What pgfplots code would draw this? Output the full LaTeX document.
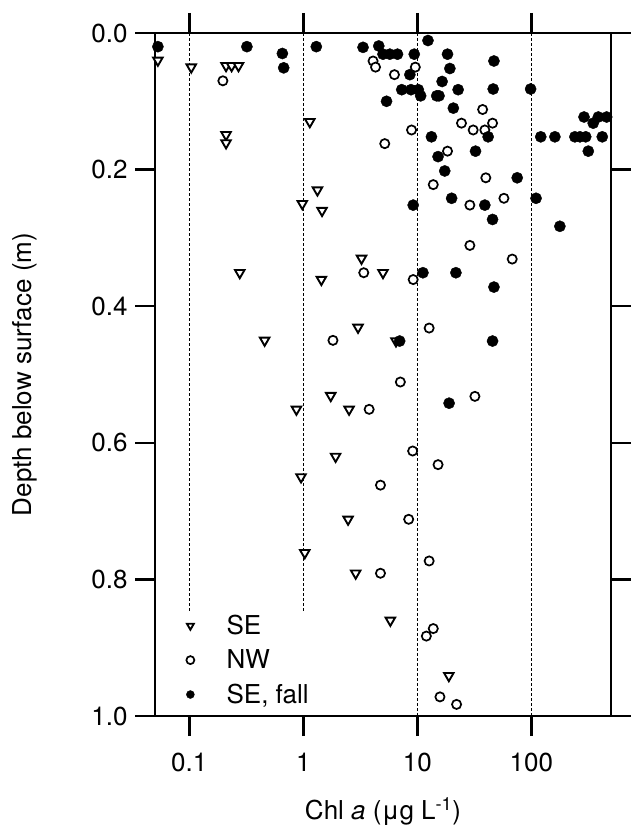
\documentclass[border=0pt]{standalone}
\usepackage{fontspec}
\setmainfont{TeX Gyre Heros}
\usepackage{pgfplots}
\pgfplotsset{compat=1.18}

\begin{document}
\begin{tikzpicture}
\path[use as bounding box] (-155pt,-110pt) rectangle (476pt,716pt);
\begin{axis}[
  at={(0pt,0pt)}, anchor=south west,
  scale only axis, width=456pt, height=683pt,
  xmode=log, xmin=0.05, xmax=500,
  ymin=0, ymax=1, y dir=reverse,
  xtick={0.1,1,10,100}, xticklabels={0.1,1,10,100},
  xminorticks=false,
  ytick={0,0.2,0.4,0.6,0.8,1}, yticklabels={0.0,0.2,0.4,0.6,0.8,1.0},
  tick align=outside, major tick length=20pt,
  axis line style={line width=2.4pt},
  every tick/.style={line width=2.4pt, black},
  font=\fontsize{26}{31}\selectfont,
  xticklabel shift=14pt,
  yticklabel shift=4pt,
  xlabel={Chl \textit{a} (μg L\textsuperscript{-1})},
  ylabel={Depth below surface (m)},
  xlabel style={at={(axis description cs:0.5,-0.14)}, anchor=center},
  ylabel style={at={(axis description cs:-0.285,0.5)}, anchor=center},
  legend style={at={(axis description cs:0.0504,0.006)}, anchor=south west,
    inner sep=0pt, row sep=0pt, draw=none, fill=none,
    font=\fontsize{26}{31}\selectfont,
    nodes={inner sep=0pt, text height=17pt, text depth=0pt}},
  legend cell align=left,
  legend image code/.code={
    \draw[#1, mark size=4pt] plot coordinates {(0pt,0pt)};
    \path (-12pt,-17pt) (36pt,17pt);
  },
]
% dashed guide lines
\addplot[forget plot, line width=0.9pt, dash pattern=on 3pt off 2pt] coordinates {(0.1,0) (0.1,0.849)};
\addplot[forget plot, line width=0.9pt, dash pattern=on 3pt off 2pt] coordinates {(1,0) (1,0.849)};
\addplot[forget plot, line width=0.9pt, dash pattern=on 3pt off 2pt] coordinates {(10,0) (10,1)};
\addplot[forget plot, line width=0.9pt, dash pattern=on 3pt off 2pt] coordinates {(100,0) (100,1)};

% SE
\addplot[only marks, mark=triangle*, mark size=5.5pt,
  mark options={rotate=180, fill=white, draw=black, line width=1.9pt}]
coordinates {
(0.053,0.04) (0.104,0.05) (0.21,0.048) (0.235,0.048) (0.27,0.048)
(0.21,0.149) (0.21,0.161) (1.14,0.13) (1.33,0.23) (0.98,0.25) (1.46,0.26)
(3.24,0.33) (5.0,0.351) (0.277,0.351) (1.44,0.361) (3.02,0.431) (0.458,0.45)
(6.5,0.451) (1.74,0.531) (0.87,0.551) (2.52,0.551) (1.92,0.62) (0.955,0.65)
(2.47,0.712) (1.03,0.761) (2.88,0.791) (5.8,0.86) (18.9,0.941)
};
\addlegendentry{SE}

% NW
\addplot[only marks, mark=*, mark size=4.6pt,
  mark options={fill=white, draw=black, line width=1.7pt}]
coordinates {
(0.197,0.07) (4.09,0.041) (4.3,0.05) (6.3,0.061) (9.6,0.05) (5.18,0.162)
(37.4,0.112) (24.4,0.132) (45.7,0.132) (30.9,0.142) (39.1,0.142) (8.9,0.142)
(18.4,0.173) (39.9,0.212) (13.8,0.222) (57.5,0.242) (28.9,0.252) (28.9,0.311)
(68,0.331) (9.2,0.361) (3.39,0.351) (12.7,0.432) (1.82,0.45) (7.1,0.511)
(32,0.532) (3.78,0.551) (9.1,0.612) (15.2,0.632) (4.75,0.662) (8.4,0.712)
(12.7,0.773) (4.75,0.791) (13.8,0.872) (12.0,0.883) (15.8,0.972) (22.1,0.983)
};
\addlegendentry{NW}

% SE, fall
\addplot[only marks, mark=*, mark size=5.6pt,
  mark options={fill=black, draw=black}]
coordinates {
(0.053,0.02) (0.32,0.02) (0.655,0.03) (0.673,0.051) (1.30,0.02) (3.34,0.021)
(4.59,0.019) (5.0,0.031) (5.74,0.031) (6.7,0.031) (9.4,0.031) (12.4,0.011)
(18.4,0.031) (19.3,0.052) (8.6,0.061) (47,0.041) (16.5,0.071) (7.3,0.083)
(8.8,0.083) (10.2,0.083) (22.8,0.083) (46.3,0.082) (98.6,0.082) (10.7,0.092)
(14.8,0.092) (15.5,0.092) (5.37,0.10) (20.7,0.11) (13.3,0.152) (41.8,0.152)
(121,0.152) (161,0.152) (241,0.152) (267,0.152) (300,0.152) (419,0.152)
(290,0.123) (387,0.123) (458,0.123) (349,0.132) (316,0.173) (15.2,0.181)
(32.4,0.173) (17.4,0.202) (75.2,0.212) (20.0,0.242) (110,0.242) (9.2,0.252)
(39.1,0.252) (45.7,0.273) (178,0.283) (11.2,0.351) (21.8,0.351) (47,0.372)
(7.0,0.451) (45.7,0.451) (19.0,0.542)
};
\addlegendentry{SE, fall}
\end{axis}
\end{tikzpicture}
\end{document}
